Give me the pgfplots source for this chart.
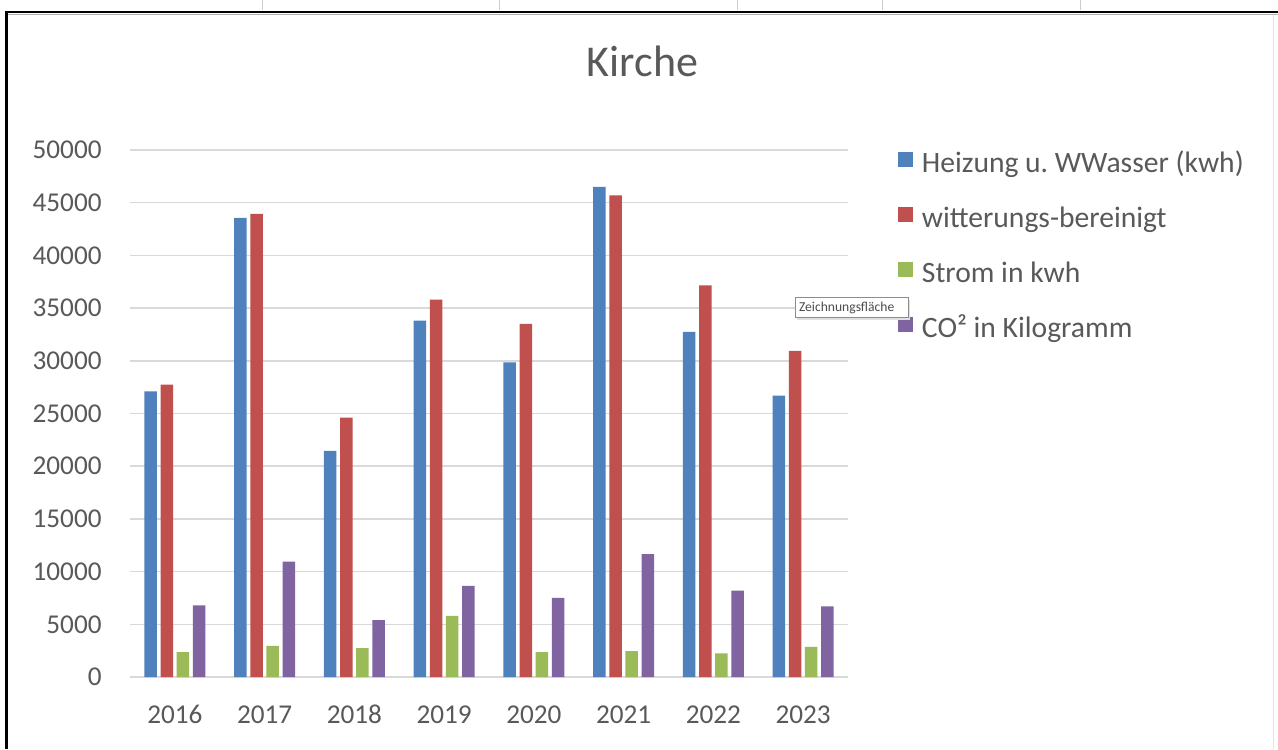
\documentclass[border=0pt]{standalone}
\usepackage{fontspec}
\setmainfont{Carlito}
\usepackage{pgfplots}
\usepackage{pgfplotstable}
\pgfplotsset{compat=1.18}
\definecolor{cBlue}{HTML}{4F81BD}
\definecolor{cRed}{HTML}{C0504D}
\definecolor{cGreen}{HTML}{9BBB59}
\definecolor{cPurple}{HTML}{8064A2}
\definecolor{txt}{HTML}{595959}
\definecolor{gridc}{HTML}{D9D9D9}

\pgfplotstableread{
x heiz witt strom co2
0 27100 27750 2350 6800
1 43550 43950 2950 10950
2 21450 24600 2750 5400
3 33800 35800 5800 8650
4 29850 33500 2350 7500
5 46500 45700 2450 11650
6 32750 37150 2250 8200
7 26700 30950 2850 6700
}\data

\begin{document}
\frenchspacing
\begin{tikzpicture}
\useasboundingbox (-65pt,-36pt) rectangle (574pt,338.5pt);
\fill[white] (-65pt,-36pt) rectangle (574pt,338.5pt);
\begin{axis}[
  at={(0pt,0pt)}, anchor=south west,
  scale only axis, width=359pt, height=263.5pt,
  ybar=1.85pt, bar width=6.25pt,
  xmin=-0.5, xmax=7.5, ymin=0, ymax=50000,
  xtick={0,...,7}, xticklabels={2016,2017,2018,2019,2020,2021,2022,2023},
  ytick={0,5000,...,50000},
  scaled y ticks=false,
  ymajorgrids, grid style={gridc, line width=0.75pt},
  axis line style={draw=none},
  major tick length=0pt,
  tick label style={font=\fontsize{13.6}{16}\selectfont, text=txt, inner sep=0pt},
  yticklabel style={xshift=-14pt},
  xticklabel style={yshift=-14pt},
  /pgf/number format/1000 sep={},
  /pgf/number format/assume math mode=true,
  legend cell align=left,
  legend style={at={(1.0696,0.9962)}, anchor=north west, draw=none, fill=none,
    inner sep=0pt, outer sep=0pt, font=\fontsize{14.8}{17}\selectfont, text=txt,
    row sep=14.5pt, nodes={inner sep=0pt, text height=10pt, text depth=3pt},
    /tikz/every odd column/.append style={column sep=4.5pt}},
  legend image code/.code={\fill[#1, draw=none] (0pt,-1pt) rectangle (7.5pt,6.5pt);},
]
\addplot[fill=cBlue, draw=none] table[x=x, y=heiz] {\data};
\addplot[fill=cRed, draw=none] table[x=x, y=witt] {\data};
\addplot[fill=cGreen, draw=none] table[x=x, y=strom] {\data};
\addplot[fill=cPurple, draw=none] table[x=x, y=co2] {\data};
\legend{Heizung u.\ WWasser (kwh), witterungs-bereinigt, Strom in kwh, CO² in Kilogramm}
\end{axis}
\node[anchor=base, font=\fontsize{22}{26}\selectfont, text=txt] at (256.25pt,300.15pt) {Kirche};
% tooltip
\fill[black!12] (333.5pt,178.5pt) rectangle (390pt,188.5pt);
\draw[black!45, fill=white, line width=0.5pt] (332.5pt,179.5pt) rectangle (389pt,189.5pt);
\node[anchor=west, inner sep=0pt, font=\fontsize{6.8}{8}\selectfont, text=black!70] at (334.3pt,184.5pt) {Zeichnungsfläche};
% frame
\draw[black!20, line width=0.4pt] (66pt,338.5pt) -- (66pt,333.5pt);
\draw[black!20, line width=0.4pt] (184.5pt,338.5pt) -- (184.5pt,333.5pt);
\draw[black!20, line width=0.4pt] (303.5pt,338.5pt) -- (303.5pt,333.5pt);
\draw[black!20, line width=0.4pt] (376pt,338.5pt) -- (376pt,333.5pt);
\draw[black!20, line width=0.4pt] (475pt,338.5pt) -- (475pt,333.5pt);
\draw[black!30, line width=0.5pt] (-61pt,331.2pt) -- (574pt,331.2pt);
\draw[black, line width=1pt] (-62.25pt,332.6pt) -- (574pt,332.6pt);
\draw[black, line width=1.5pt] (-61.5pt,333.1pt) -- (-61.5pt,-36pt);
\draw[black!10, line width=0.5pt] (571.5pt,331pt) -- (571.5pt,-36pt);
\end{tikzpicture}
\end{document}
